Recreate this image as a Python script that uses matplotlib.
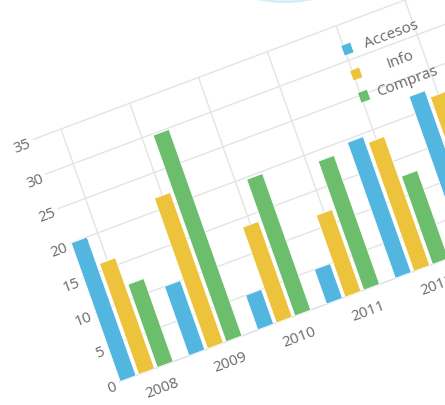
import numpy as np
import matplotlib.pyplot as plt
from matplotlib.transforms import Affine2D
from matplotlib.patches import Ellipse, Rectangle, Arc

# data
years = ['2008', '2009', '2010', '2011', '2012', '2013']
accesos = [20, 10, 5, 5, 19.6, 22.5]
info = [16, 21.7, 13.8, 11.8, 18.6, 21.4]
compras = [12, 29.8, 19.7, 18.6, 12.7, 17]
y_ticks = [0, 5, 10, 15, 20, 25, 30, 35]
names = ['Accesos', 'Info', 'Compras']
colors = ['#52b6e0', '#ecc33b', '#6cbe6d']

fig = plt.figure(figsize=(4.45, 4.06), dpi=100)
ax = fig.add_axes([0, 0, 1, 1])
ax.axis('off')

# the chart plane is seen at an angle: (category, value) -> pixel
plane = Affine2D.from_values(68.8, -25.8, -2.45, -6.93, 146.7, 372.6) + ax.transData
ang = np.degrees(np.arctan2(25.8, 68.8))

txt = dict(transform=plane, rotation=ang, rotation_mode='anchor',
           color='#686868', family='Open Sans')

# faint decorations of the page around the chart
ax.add_patch(Ellipse((285, -22), 115, 50, facecolor='#e3f5fa', edgecolor='#d2eef6',
                     lw=1.5, zorder=0))
ax.add_patch(Arc((250, 80), 520, 650, theta1=-60, theta2=-35, color='#ececec', lw=1.2, zorder=0))

x = np.arange(len(years))
umin, umax = -0.4, 5.8

# grid
for v in y_ticks[1:]:
    ax.plot([umin, umax], [v, v], color='#e4e4e4', lw=1, transform=plane, zorder=1)
for u in x:
    ax.plot([u, u], [0, y_ticks[-1]], color='#e4e4e4', lw=1, transform=plane, zorder=1)
ax.plot([umin, umax], [0, 0], color='#d8dee8', lw=1, transform=plane, zorder=1)

# bars
w = 0.23
off = 0.27
for i, (vals, c) in enumerate(zip([accesos, info, compras], colors)):
    ax.bar(x + (i - 1) * off, vals, width=w, color=c, edgecolor='white',
           linewidth=0.6, transform=plane, zorder=2)

# axis labels
for v in y_ticks:
    ax.text(-0.45, v - 0.3, str(v), ha='right', va='center', fontsize=11, **txt)
for u, yr in zip(x, years):
    ax.text(u + 0.12, -2.8, yr, ha='center', va='center', fontsize=11, **txt)

# legend
leg_v = [31.5, 27.9, 24.7]
for name, c, v in zip(names, colors, leg_v):
    ax.add_patch(Rectangle((3.97, v - 0.75), 0.14, 1.5, transform=plane,
                           facecolor=c, edgecolor='white', lw=0.6, zorder=3))
    ax.text(4.67, v - 0.1, name, ha='center', va='center', fontsize=11, **txt)

ax.set_xlim(0, 445)
ax.set_ylim(406, 0)

plt.savefig('out.png', dpi=100)
